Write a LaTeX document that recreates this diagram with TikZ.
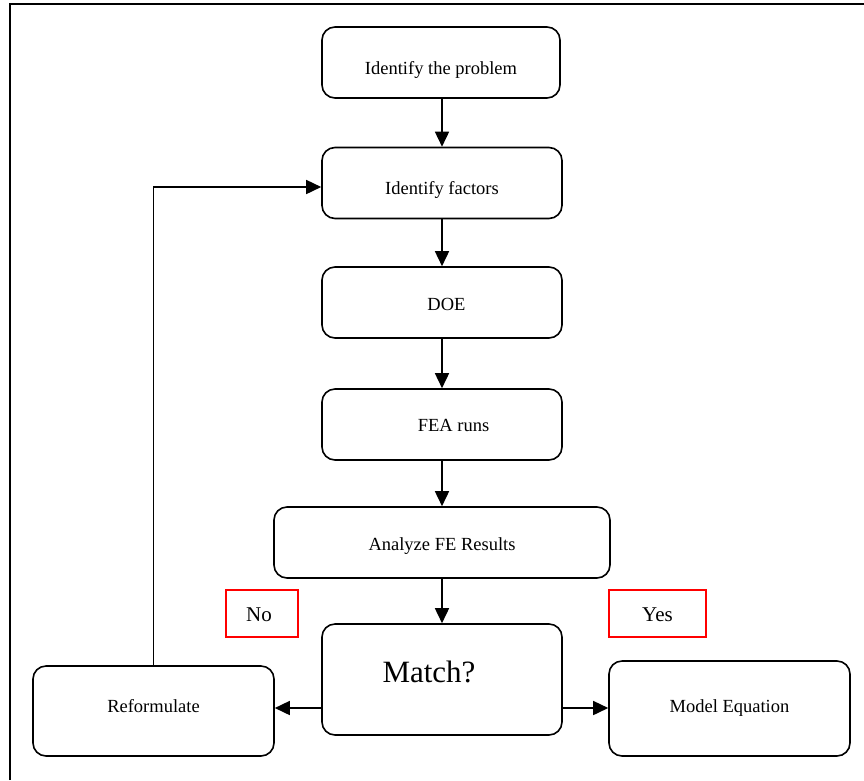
\documentclass[tikz,border=0pt]{standalone}
\usepackage{fontspec}
\setmainfont{Liberation Serif}
\usetikzlibrary{arrows.meta}
\begin{document}
\begin{tikzpicture}[x=1pt,y=-1pt,
  box/.style={draw, line width=1.6pt, rounded corners=13pt, inner sep=0pt,
    text depth=0pt, font=\fontsize{18.5}{22}\selectfont},
  flow/.style={line width=1.6pt, -{Triangle[length=15pt,width=14pt]}},
  tag/.style={draw=red, line width=1.2pt, inner sep=0pt, text depth=0pt,
    text height=15pt, font=\fontsize{21}{25}\selectfont}
]
\useasboundingbox (0,0) rectangle (864,780);
% frame
\draw[line width=2pt] (10,780) -- (10,4) -- (864,4);

\node[box, minimum width=238pt, minimum height=71pt, text height=23.6pt] (prob) at (441,62.5) {Identify the problem};
\node[box, minimum width=240pt, minimum height=71pt, text height=22.2pt] (fact) at (442,183) {Identify factors};
\node[box, minimum width=240pt, minimum height=71pt, text height=15pt] (doe) at (442,302.5) {\hspace*{9pt}DOE};
\node[box, minimum width=240pt, minimum height=71pt, text height=14.4pt] (fea) at (442,424.5) {\hspace*{23pt}FEA runs};
\node[box, minimum width=336pt, minimum height=71pt, text height=15pt] (ana) at (442,542.5) {Analyze FE Results};
\node[box, minimum width=240pt, minimum height=111pt, text height=6.4pt, font=\fontsize{31}{36}\selectfont] (match) at (442,679.5) {Match?\hspace*{26pt}};
\node[box, minimum width=241pt, minimum height=90pt, text height=3.4pt] (ref) at (153.5,711) {Reformulate};
\node[box, minimum width=241pt, minimum height=95pt, text height=8.4pt] (model) at (729.5,708.5) {Model Equation};

\node[tag, minimum width=72pt, minimum height=47pt] (no) at (262,613.5) {No\hspace*{6pt}};
\node[tag, minimum width=97pt, minimum height=47pt] (yes) at (657.5,613.5) {Yes};

\draw[flow] (prob.south -| fact.north) -- (fact.north);
\draw[flow] (fact) -- (doe);
\draw[flow] (doe) -- (fea);
\draw[flow] (fea) -- (ana);
\draw[flow] (ana) -- (match);

\coordinate (my) at (442,708);
\draw[flow] (match.west |- my) -- (ref.east |- my);
\draw[flow] (match.east |- my) -- (model.west |- my);

\coordinate (loopy) at (0,187);
\draw[flow] (ref.north) -- (ref.north |- loopy) -- (fact.west |- loopy);
\end{tikzpicture}
\end{document}
